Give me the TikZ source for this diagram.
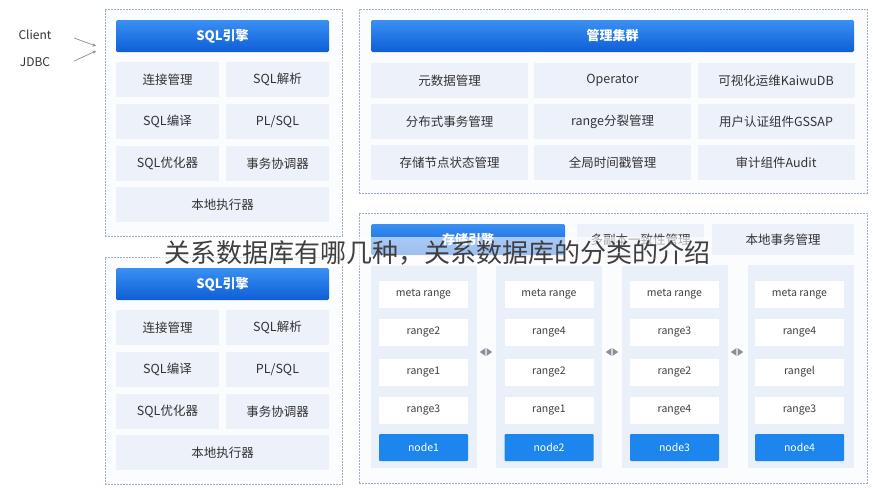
\documentclass[tikz,border=0pt]{standalone}
\usepackage{fontspec}
\setmainfont{Noto Sans CJK SC}
\usetikzlibrary{arrows.meta,calc}
\definecolor{hdtop}{HTML}{3A90F3}
\definecolor{hdbot}{HTML}{0E5ED6}
\definecolor{cellbg}{HTML}{EDF1FA}
\definecolor{txt}{HTML}{333333}
\definecolor{dashc}{HTML}{9DB0C8}
\definecolor{nodeblue}{HTML}{1C86EE}
\definecolor{colbg}{HTML}{EAF0FA}
\definecolor{framebg}{HTML}{FBFCFE}
\definecolor{arrc}{HTML}{8A8F99}
\begin{document}
\begin{tikzpicture}[x=1pt,y=-1pt,
  frame/.style={draw=dashc, line width=0.8pt, dash pattern=on 1.6pt off 1.4pt, fill=framebg, inner sep=0pt},
  header/.style={rounded corners=1.5pt, top color=hdtop, bottom color=hdbot, draw=none, text=white, font=\fontsize{13}{15}\selectfont\bfseries, inner sep=0pt, minimum height=32pt},
  cell/.style={fill=cellbg, text=txt, font=\fontsize{12.5}{14}\selectfont, inner sep=0pt, minimum height=35pt},
  colbox/.style={fill=colbg, inner sep=0pt, minimum width=106pt, minimum height=203pt},
  rcell/.style={fill=white, text=black!75, font=\fontsize{10.5}{12}\selectfont, inner sep=0pt, minimum width=89pt, minimum height=27pt},
  ncell/.style={fill=nodeblue, rounded corners=1pt, text=white, font=\fontsize{10.5}{12}\selectfont, inner sep=0pt, minimum width=89pt, minimum height=27pt},
  tri/.style={fill=arrc},
  carr/.style={-{Stealth[length=3.5pt,width=3.5pt]}, draw=black!45, line width=0.7pt},
  lbl/.style={text=txt, font=\fontsize{12}{14}\selectfont, inner sep=0pt}
]
\useasboundingbox (0,0) rectangle (873,490);
\fill[white] (0,0) rectangle (873,490);

% ---------- Client / JDBC ----------
\node[lbl] (client) at (35,35) {Client};
\node[lbl] (jdbc) at (35,62) {JDBC};
\coordinate (c1s) at (74,38);
\coordinate (c1e) at (96,46);
\coordinate (c2s) at (74,61);
\coordinate (c2e) at (96,51);
\draw[carr] (c1s) -- (c1e);
\draw[carr] (c2s) -- (c2e);

% ---------- Left top box ----------
\node[frame, minimum width=237pt, minimum height=227pt] (ltbox) at (223.5,122.5) {};
\node[header, minimum width=213pt] (lth) at (222.5,36) {SQL引擎};
\node[cell, minimum width=103pt] (lt11) at (167.5,79.5) {连接管理};
\node[cell, minimum width=103pt] (lt12) at (277.5,79.5) {SQL解析};
\node[cell, minimum width=103pt] (lt21) at (167.5,121.5) {SQL编译};
\node[cell, minimum width=103pt] (lt22) at (277.5,121.5) {PL/SQL};
\node[cell, minimum width=103pt] (lt31) at (167.5,163.5) {SQL优化器};
\node[cell, minimum width=103pt] (lt32) at (277.5,163.5) {事务协调器};
\node[cell, minimum width=213pt] (lt4) at (222.5,204.5) {本地执行器};

% ---------- Left bottom box ----------
\node[frame, minimum width=237pt, minimum height=227pt] (lbbox) at (223.5,370.5) {};
\node[header, minimum width=213pt] (lbh) at (222.5,284) {SQL引擎};
\node[cell, minimum width=103pt] (lb11) at (167.5,327.5) {连接管理};
\node[cell, minimum width=103pt] (lb12) at (277.5,327.5) {SQL解析};
\node[cell, minimum width=103pt] (lb21) at (167.5,369.5) {SQL编译};
\node[cell, minimum width=103pt] (lb22) at (277.5,369.5) {PL/SQL};
\node[cell, minimum width=103pt] (lb31) at (167.5,411.5) {SQL优化器};
\node[cell, minimum width=103pt] (lb32) at (277.5,411.5) {事务协调器};
\node[cell, minimum width=213pt] (lb4) at (222.5,452.5) {本地执行器};

% ---------- Right top box ----------
\node[frame, minimum width=508pt, minimum height=184pt] (rtbox) at (613,101) {};
\node[header, minimum width=483pt] (rth) at (612.5,36) {管理集群};
\node[cell, minimum width=157pt] (rt11) at (449.5,80.5) {元数据管理};
\node[cell, minimum width=157pt] (rt12) at (612.5,80.5) {Operator};
\node[cell, minimum width=157pt] (rt13) at (776,80.5) {可视化运维KaiwuDB};
\node[cell, minimum width=157pt] (rt21) at (449.5,121.5) {分布式事务管理};
\node[cell, minimum width=157pt] (rt22) at (612.5,121.5) {range分裂管理};
\node[cell, minimum width=157pt] (rt23) at (776,121.5) {用户认证组件GSSAP};
\node[cell, minimum width=157pt] (rt31) at (449.5,162.5) {存储节点状态管理};
\node[cell, minimum width=157pt] (rt32) at (612.5,162.5) {全局时间戳管理};
\node[cell, minimum width=157pt] (rt33) at (776,162.5) {审计组件Audit};

% ---------- Right bottom box ----------
\node[frame, minimum width=508pt, minimum height=270pt] (rbbox) at (613,348) {};
\node[header, minimum width=194pt, minimum height=31pt] (rbh1) at (468,239.5) {存储引擎};
\node[cell, minimum width=127pt, minimum height=31pt] (rbh2) at (640.5,239.5) {多副本一致性管理};
\node[cell, minimum width=142pt, minimum height=31pt] (rbh3) at (783,239.5) {本地事务管理};

\node[colbox] (col1) at (424,366.5) {};
\node[colbox] (col2) at (549,366.5) {};
\node[colbox] (col3) at (675,366.5) {};
\node[colbox] (col4) at (800.5,366.5) {};

\node[rcell] (c1a) at (423.5,294.5) {meta range};
\node[rcell] (c1b) at (423.5,332) {range2};
\node[rcell] (c1c) at (423.5,372) {range1};
\node[rcell] (c1d) at (423.5,410) {range3};
\node[ncell] (c1n) at (423.5,447.5) {node1};

\node[rcell] (c2a) at (549,294.5) {meta range};
\node[rcell] (c2b) at (549,332) {range4};
\node[rcell] (c2c) at (549,372) {range2};
\node[rcell] (c2d) at (549,410) {range1};
\node[ncell] (c2n) at (549,447.5) {node2};

\node[rcell] (c3a) at (674.5,294.5) {meta range};
\node[rcell] (c3b) at (674.5,332) {range3};
\node[rcell] (c3c) at (674.5,372) {range2};
\node[rcell] (c3d) at (674.5,410) {range4};
\node[ncell] (c3n) at (674.5,447.5) {node3};

\node[rcell] (c4a) at (799.5,294.5) {meta range};
\node[rcell] (c4b) at (799.5,332) {range4};
\node[rcell] (c4c) at (799.5,372) {rangel};
\node[rcell] (c4d) at (799.5,410) {range3};
\node[ncell] (c4n) at (799.5,447.5) {node4};

% double arrows (◀▶) between columns
\coordinate (a1) at (486,352);
\coordinate (a2) at (612,352);
\coordinate (a3) at (737,352);
\foreach \c in {a1,a2,a3}{
  \fill[tri] ($(\c)+(-0.7,-3.8)$) -- ($(\c)+(-6.2,0)$) -- ($(\c)+(-0.7,3.8)$) -- cycle;
  \fill[tri] ($(\c)+(0.7,-3.8)$) -- ($(\c)+(6.2,0)$) -- ($(\c)+(0.7,3.8)$) -- cycle;
}

% ---------- watermark overlay ----------
\fill[white, opacity=0.6] (160,237) rectangle (712,266);
\node[text=black!75, font=\fontsize{26}{28}\selectfont, inner sep=0pt] (wm) at (437.5,252.5) {关系数据库有哪几种，关系数据库的分类的介绍};
\end{tikzpicture}
\end{document}
